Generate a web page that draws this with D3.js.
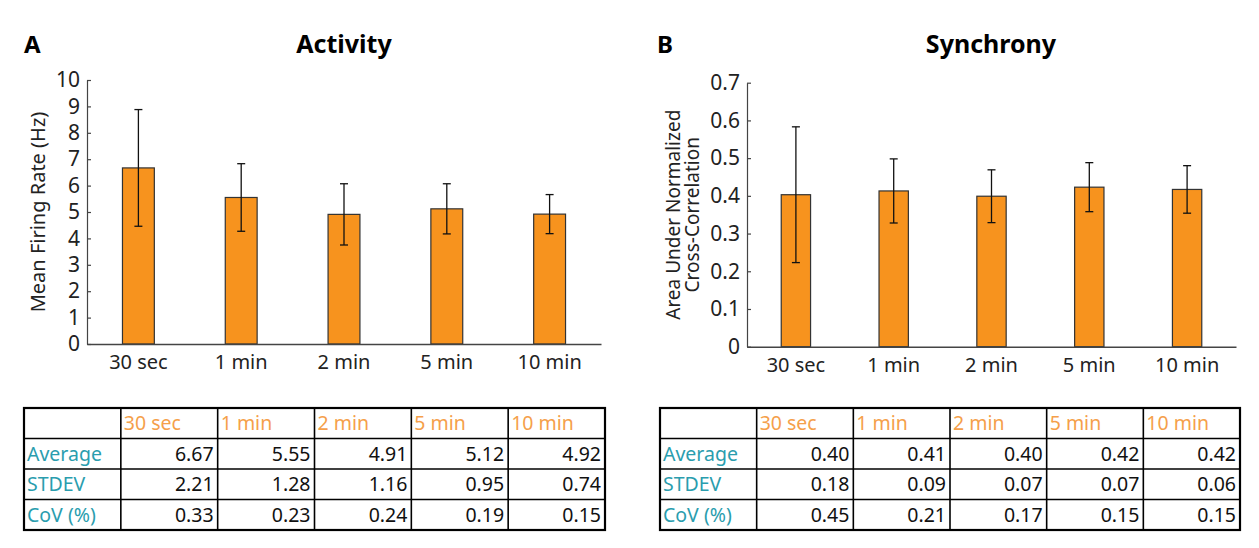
<!DOCTYPE html>
<html>
<head>
<meta charset="utf-8">
<script src="https://cdn.jsdelivr.net/npm/d3@7"></script>
<style>
  body { margin: 0; background: #fff; }
  text { font-family: "Noto Sans", sans-serif; }
</style>
</head>
<body>
<svg id="chart" width="1259" height="548"></svg>
<script>
// categories shared by both panels
const periods = ['30 sec', '1 min', '2 min', '5 min', '10 min'];

// panel A - mean firing rate (Hz)
const activityMean = [6.67, 5.55, 4.91, 5.12, 4.92];
const activitySd = [2.21, 1.28, 1.16, 0.95, 0.74];
const activityTicks = [0, 1, 2, 3, 4, 5, 6, 7, 8, 9, 10];

// panel B - area under normalized cross-correlation
const syncMean = [0.403, 0.413, 0.399, 0.423, 0.417];
const syncSd = [0.18, 0.085, 0.07, 0.065, 0.063];
const syncTicks = [0, 0.1, 0.2, 0.3, 0.4, 0.5, 0.6, 0.7];

// table rows
const rowLabels = ['Average', 'STDEV', 'CoV (%)'];
const activityTable = [
  ['6.67', '5.55', '4.91', '5.12', '4.92'],
  ['2.21', '1.28', '1.16', '0.95', '0.74'],
  ['0.33', '0.23', '0.24', '0.19', '0.15']
];
const syncTable = [
  ['0.40', '0.41', '0.40', '0.42', '0.42'],
  ['0.18', '0.09', '0.07', '0.07', '0.06'],
  ['0.45', '0.21', '0.17', '0.15', '0.15']
];

const svg = d3.select('#chart');
const orange = '#F7931E';
const headOrange = '#F5A04A';
const teal = '#2A9DAE';

function panel(opt) {
  const g = svg.append('g');

  const x = d3.scaleBand()
    .domain(periods)
    .range([opt.left, opt.right])
    .paddingInner(opt.pad)
    .paddingOuter(opt.pad / 2);

  const y = d3.scaleLinear()
    .domain([0, opt.max])
    .range([opt.bottom, opt.top]);

  // letter + title
  g.append('text')
    .attr('x', opt.letterX).attr('y', 53)
    .attr('font-size', 24).attr('font-weight', 'bold')
    .text(opt.letter);
  g.append('text')
    .attr('x', opt.titleX).attr('y', 53)
    .attr('text-anchor', 'middle')
    .attr('font-size', 25).attr('font-weight', 'bold')
    .text(opt.title);

  // bars
  g.selectAll('.bar')
    .data(opt.mean)
    .enter().append('rect')
    .attr('x', (d, i) => x(periods[i]))
    .attr('y', d => y(d))
    .attr('width', x.bandwidth())
    .attr('height', d => y(0) - y(d))
    .attr('fill', orange)
    .attr('stroke', '#333')
    .attr('stroke-width', 1.2);

  // error bars
  const cx = i => x(periods[i]) + x.bandwidth() / 2;
  const eb = g.selectAll('.err')
    .data(opt.mean)
    .enter().append('g')
    .attr('stroke', '#111')
    .attr('stroke-width', 1.3);
  eb.append('line')
    .attr('x1', (d, i) => cx(i)).attr('x2', (d, i) => cx(i))
    .attr('y1', (d, i) => y(d - opt.sd[i]))
    .attr('y2', (d, i) => y(d + opt.sd[i]));
  [-1, 1].forEach(s => {
    eb.append('line')
      .attr('x1', (d, i) => cx(i) - 4).attr('x2', (d, i) => cx(i) + 4)
      .attr('y1', (d, i) => y(d + s * opt.sd[i]))
      .attr('y2', (d, i) => y(d + s * opt.sd[i]));
  });

  // y axis
  const ya = g.append('g')
    .attr('transform', `translate(${opt.left},0)`)
    .call(d3.axisLeft(y).tickValues(opt.ticks).tickFormat(opt.fmt)
      .tickSizeInner(-4).tickSizeOuter(0).tickPadding(7));
  ya.select('.domain').attr('stroke', '#444').attr('stroke-width', 1.2);
  ya.selectAll('.tick line').attr('stroke', '#444').attr('stroke-width', 1.2);
  ya.selectAll('.tick text')
    .attr('font-size', 21).attr('fill', '#222')
    .style('font-family', '"Noto Sans", sans-serif');

  // x axis
  const xa = g.append('g')
    .attr('transform', `translate(0,${opt.bottom})`)
    .call(d3.axisBottom(x).tickSize(0).tickPadding(11).tickSizeOuter(0));
  xa.select('.domain').attr('stroke', '#444').attr('stroke-width', 1.5);
  xa.selectAll('.tick text')
    .attr('font-size', 20).attr('fill', '#222')
    .style('font-family', '"Noto Sans", sans-serif');

  // y label
  const yl = g.append('text')
    .attr('transform', `translate(${opt.labelX},${(opt.top + opt.bottom) / 2}) rotate(-90)`)
    .attr('text-anchor', 'middle')
    .attr('font-size', opt.labelSize)
    .attr('fill', '#222');
  opt.yLabel.forEach((t, i) => {
    yl.append('tspan')
      .attr('x', 0)
      .attr('dy', i === 0 ? (opt.yLabel.length === 1 ? '0.35em' : '-0.15em') : '1.0em')
      .text(t);
  });

  // stats table
  const cols = d3.scaleLinear().domain([0, 6]).range([opt.tLeft, opt.tRight]);
  const rows = d3.scaleLinear().domain([0, 4]).range([408, 530]);
  const tg = g.append('g');

  for (let c = 1; c < 6; c++) {
    tg.append('line')
      .attr('x1', cols(c)).attr('x2', cols(c))
      .attr('y1', rows(0)).attr('y2', rows(4))
      .attr('stroke', '#000').attr('stroke-width', 1.6);
  }
  for (let r = 1; r < 4; r++) {
    tg.append('line')
      .attr('x1', cols(0)).attr('x2', cols(6))
      .attr('y1', rows(r)).attr('y2', rows(r))
      .attr('stroke', '#000').attr('stroke-width', 1.6);
  }
  tg.append('rect')
    .attr('x', cols(0)).attr('y', rows(0))
    .attr('width', cols(6) - cols(0)).attr('height', rows(4) - rows(0))
    .attr('fill', 'none').attr('stroke', '#000').attr('stroke-width', 2.2);

  tg.selectAll('.head')
    .data(periods)
    .enter().append('text')
    .attr('x', (d, i) => cols(i + 1) + 3)
    .attr('y', (rows(0) + rows(1)) / 2 + 7)
    .attr('font-size', 19.5).attr('fill', headOrange)
    .text(d => d);

  tg.selectAll('.rlab')
    .data(rowLabels)
    .enter().append('text')
    .attr('x', cols(0) + 3)
    .attr('y', (d, i) => (rows(i + 1) + rows(i + 2)) / 2 + 7)
    .attr('font-size', 19.5).attr('fill', teal)
    .text(d => d);

  opt.table.forEach((vals, r) => {
    tg.selectAll('.v' + r)
      .data(vals)
      .enter().append('text')
      .attr('x', (d, i) => cols(i + 2) - 4)
      .attr('y', (rows(r + 1) + rows(r + 2)) / 2 + 7)
      .attr('text-anchor', 'end')
      .attr('font-size', 19.5).attr('fill', '#111')
      .text(d => d);
  });
}

panel({
  letter: 'A', letterX: 24, title: 'Activity', titleX: 344,
  left: 87, right: 601, top: 80, bottom: 344, pad: 0.69,
  max: 10, ticks: activityTicks, fmt: d3.format('d'),
  mean: activityMean, sd: activitySd,
  yLabel: ['Mean Firing Rate (Hz)'], labelX: 38, labelSize: 20,
  tLeft: 24, tRight: 605, table: activityTable
});

panel({
  letter: 'B', letterX: 657, title: 'Synchrony', titleX: 991,
  left: 747, right: 1236, top: 82.7, bottom: 346.7, pad: 0.70,
  max: 0.7, ticks: syncTicks, fmt: d => d === 0 ? '0' : d3.format('.1f')(d),
  mean: syncMean, sd: syncSd,
  yLabel: ['Area Under Normalized', 'Cross-Correlation'], labelX: 683, labelSize: 19,
  tLeft: 660, tRight: 1240, table: syncTable
});
</script>
</body>
</html>
